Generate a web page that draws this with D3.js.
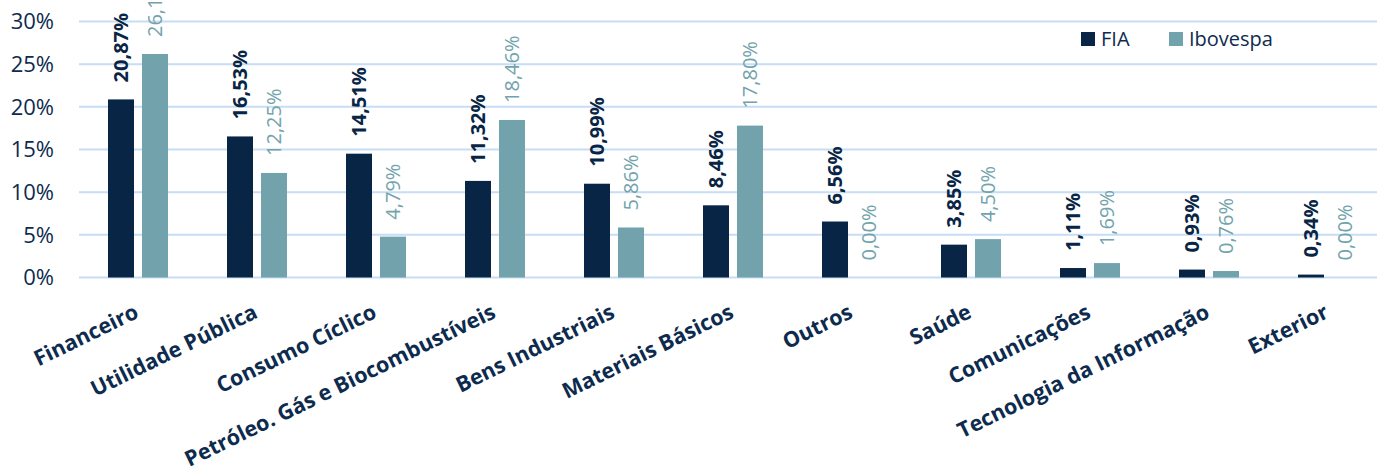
<!DOCTYPE html>
<html>
<head>
<meta charset="utf-8">
<script src="https://cdn.jsdelivr.net/npm/d3@7"></script>
<style>
    body { margin: 0; background: #fff; }
    svg { display: block; }
    text { font-family: "Open Sans", "Noto Sans", sans-serif; }
</style>
</head>
<body>
<div id="chart-box"></div>
<script>
var categories = ["Financeiro", "Utilidade Pública", "Consumo Cíclico", "Petróleo. Gás e Biocombustíveis",
    "Bens Industriais", "Materiais Básicos", "Outros", "Saúde", "Comunicações",
    "Tecnologia da Informação", "Exterior"];
var fiaValues = [20.87, 16.53, 14.51, 11.32, 10.99, 8.46, 6.56, 3.85, 1.11, 0.93, 0.34];
var iboValues = [26.19, 12.25, 4.79, 18.46, 5.86, 17.80, 0.00, 4.50, 1.69, 0.76, 0.00];
var seriesNames = ["FIA", "Ibovespa"];
var yTicks = [0, 5, 10, 15, 20, 25, 30];

var fiaColor = "#082545";
var iboColor = "#72a3ac";
var textColor = "#0d2b4e";
var gridColor = "#c6ddf5";

var width = 1377, height = 472;

var svg = d3.select("#chart-box").append("svg")
    .attr("width", width)
    .attr("height", height);

var x = d3.scaleBand()
    .domain(categories)
    .range([78.5, 1387.5]);

var y = d3.scaleLinear()
    .domain([0, 30])
    .range([277.5, 21.5]);

var barW = 26, barGap = 8;

function fmt(v) {
    return v.toFixed(2).replace(".", ",") + "%";
}

// grid
svg.append("g").selectAll("line")
    .data(yTicks)
    .enter().append("line")
    .attr("x1", 79).attr("x2", width)
    .attr("y1", function (d) { return y(d); })
    .attr("y2", function (d) { return y(d); })
    .attr("stroke", gridColor)
    .attr("stroke-width", 2);

// y axis labels
svg.append("g").selectAll("text")
    .data(yTicks)
    .enter().append("text")
    .attr("x", 54)
    .attr("y", function (d) { return y(d); })
    .attr("dy", "0.36em")
    .attr("text-anchor", "end")
    .style("font-size", "22px")
    .style("fill", textColor)
    .text(function (d) { return d + "%"; });

var groups = svg.append("g").selectAll("g")
    .data(categories)
    .enter().append("g")
    .attr("transform", function (d) { return "translate(" + (x(d) + x.bandwidth() / 2) + ",0)"; });

// FIA bars
groups.append("rect")
    .attr("x", -barGap / 2 - barW)
    .attr("y", function (d, i) { return y(fiaValues[i]); })
    .attr("width", barW)
    .attr("height", function (d, i) { return y(0) - y(fiaValues[i]); })
    .attr("fill", fiaColor);

// Ibovespa bars
groups.append("rect")
    .attr("x", barGap / 2)
    .attr("y", function (d, i) { return y(iboValues[i]); })
    .attr("width", barW)
    .attr("height", function (d, i) { return y(0) - y(iboValues[i]); })
    .attr("fill", iboColor);

// value labels (rotated)
groups.append("text")
    .attr("transform", function (d, i) {
        return "translate(" + (-barGap / 2 - barW / 2) + "," + (y(fiaValues[i]) - 17) + ") rotate(-90)";
    })
    .attr("dy", "0.36em")
    .style("font-size", "20px")
    .style("font-weight", "bold")
    .style("fill", fiaColor)
    .text(function (d, i) { return fmt(fiaValues[i]); });

groups.append("text")
    .attr("transform", function (d, i) {
        return "translate(" + (barGap / 2 + barW / 2) + "," + (y(iboValues[i]) - 17) + ") rotate(-90)";
    })
    .attr("dy", "0.36em")
    .style("font-size", "20px")
    .style("fill", iboColor)
    .text(function (d, i) { return fmt(iboValues[i]); });

// category labels
groups.append("text")
    .attr("transform", "translate(2,317) rotate(-26)")
    .attr("text-anchor", "end")
    .style("font-size", "21.5px")
    .style("font-weight", "bold")
    .style("fill", textColor)
    .text(function (d) { return d; });

// legend
var legend = svg.append("g").selectAll("g")
    .data(seriesNames)
    .enter().append("g")
    .attr("transform", function (d, i) { return "translate(" + (1081 + i * 88) + ",32)"; });

legend.append("rect")
    .attr("width", 14).attr("height", 14)
    .attr("fill", function (d, i) { return i === 0 ? fiaColor : iboColor; });

legend.append("text")
    .attr("x", 20)
    .attr("y", 14)
    .style("font-size", "20px")
    .style("fill", textColor)
    .text(function (d) { return d; });
</script>
</body>
</html>
